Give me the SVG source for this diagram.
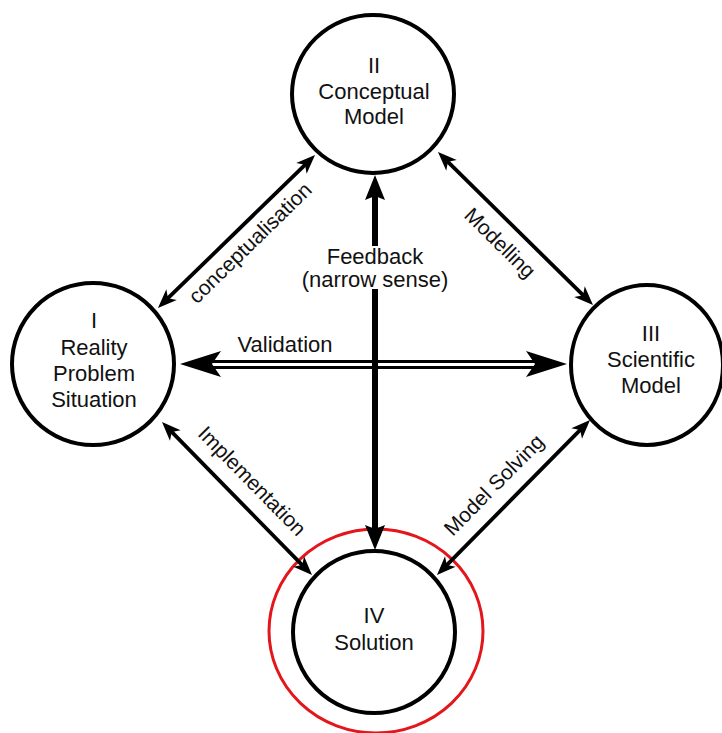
<svg xmlns="http://www.w3.org/2000/svg" width="722" height="733" viewBox="0 0 722 733">
  <style>
    .node { fill: #ffffff; stroke: #000000; stroke-width: 4; }
    .label { font-family: "Liberation Sans", Arial, sans-serif; font-size: 22px; fill: #111111; text-anchor: middle; }
    .edge-label { font-family: "Liberation Sans", Arial, sans-serif; font-size: 21px; fill: #111111; text-anchor: middle; }
    .link { stroke: #000000; stroke-width: 3.8; fill: none; }
    .feedback { stroke: #000000; stroke-width: 6; fill: none; }
    .rail { stroke: #000000; stroke-width: 3; fill: none; }
    .highlight { fill: none; stroke: #e3161b; stroke-width: 3; }
  </style>
  <defs>
    <marker id="head" markerUnits="userSpaceOnUse" markerWidth="28" markerHeight="20" viewBox="-14 -10 28 20" refX="0" refY="0" orient="auto-start-reverse" overflow="visible">
      <path d="M9,0 L-10,-7.5 L-5,0 L-10,7.5 Z" fill="#000000"/>
    </marker>
    <marker id="head-big" markerUnits="userSpaceOnUse" markerWidth="30" markerHeight="26" viewBox="-15 -13 30 26" refX="0" refY="0" orient="auto" overflow="visible">
      <path d="M13,0 L-12,-10 L-8,0 L-12,10 Z" fill="#000000"/>
    </marker>
  </defs>

  <rect x="0" y="0" width="722" height="733" fill="#ffffff"/>

  <!-- emphasis ring around the solution node -->
  <ellipse class="highlight" cx="376" cy="631" rx="107" ry="102"/>

  <g id="node-conceptual-model">
    <ellipse class="node" cx="373" cy="94" rx="81" ry="79"/>
    <text class="label" x="374" y="73">II</text>
    <text class="label" x="374" y="99">Conceptual</text>
    <text class="label" x="374" y="124">Model</text>
  </g>

  <g id="node-reality">
    <circle class="node" cx="93" cy="364" r="81"/>
    <text class="label" x="94" y="328">I</text>
    <text class="label" x="94" y="355">Reality</text>
    <text class="label" x="94" y="381">Problem</text>
    <text class="label" x="94" y="407">Situation</text>
  </g>

  <g id="node-scientific-model">
    <ellipse class="node" cx="647" cy="365" rx="76" ry="80"/>
    <text class="label" x="651" y="341">III</text>
    <text class="label" x="651" y="367">Scientific</text>
    <text class="label" x="651" y="393">Model</text>
  </g>

  <g id="node-solution">
    <circle class="node" cx="374" cy="632" r="81"/>
    <text class="label" x="374" y="623">IV</text>
    <text class="label" x="374" y="650">Solution</text>
  </g>

  <g id="connectors">
    <!-- conceptualisation: I <-> II -->
    <line class="link" x1="164.4" y1="301.7" x2="308.6" y2="161.3" marker-start="url(#head)" marker-end="url(#head)"/>
    <text class="edge-label" transform="translate(255,248) rotate(-44.3)">conceptualisation</text>

    <!-- modelling: II <-> III -->
    <line class="link" x1="444.4" y1="158.3" x2="586.6" y2="298.7" marker-start="url(#head)" marker-end="url(#head)"/>
    <text class="edge-label" transform="translate(495,248) rotate(44.6)">Modelling</text>

    <!-- implementation: I <-> IV -->
    <line class="link" x1="168.3" y1="428.4" x2="305.7" y2="568.6" marker-start="url(#head)" marker-end="url(#head)"/>
    <text class="edge-label" transform="translate(247,486) rotate(45.6)">Implementation</text>

    <!-- model solving: IV <-> III -->
    <line class="link" x1="443.3" y1="568.6" x2="583.7" y2="426.4" marker-start="url(#head)" marker-end="url(#head)"/>
    <text class="edge-label" transform="translate(499,490) rotate(-45.4)">Model Solving</text>

    <!-- validation: double rail between I and III -->
    <line class="rail" x1="210" y1="361.5" x2="537" y2="361.5"/>
    <line class="rail" x1="210" y1="367.5" x2="537" y2="367.5"/>
    <path d="M180,364 L221,351 L212,364 L221,377 Z" fill="#000000"/>
    <path d="M567,364 L526,351 L535,364 L526,377 Z" fill="#000000"/>
    <text class="label" x="285" y="352">Validation</text>

    <!-- feedback (narrow sense): IV -> II and II -> IV, interrupted by its label -->
    <line class="feedback" x1="375" y1="246" x2="375" y2="188" marker-end="url(#head-big)"/>
    <line class="feedback" x1="375" y1="289" x2="375" y2="537" marker-end="url(#head-big)"/>
    <text class="label" x="375" y="264">Feedback</text>
    <text class="label" x="375" y="287">(narrow sense)</text>
  </g>
</svg>
